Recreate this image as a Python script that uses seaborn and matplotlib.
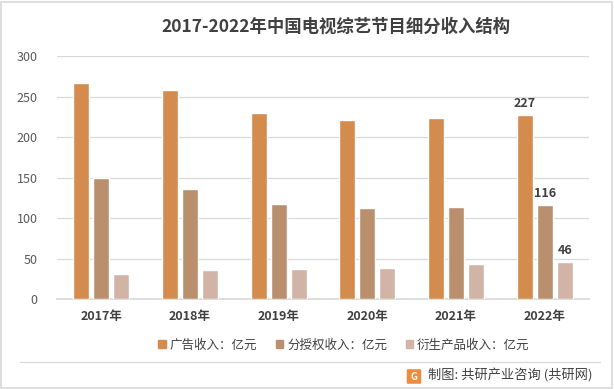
import pandas as pd
import seaborn as sns
import matplotlib.pyplot as plt
from matplotlib.patches import Rectangle, FancyBboxPatch

years = ["2017年", "2018年", "2019年", "2020年", "2021年", "2022年"]
series = ["广告收入：亿元", "分授权收入：亿元", "衍生产品收入：亿元"]
ad_income = [267, 258, 230, 221, 223, 227]
license_income = [150, 136, 117, 112, 114, 116]
derivative_income = [31, 36, 37, 38, 43, 46]
colors = ["#D38C4E", "#BA8F6E", "#D2B4A7"]

df = pd.DataFrame({
    "year": years * 3,
    "series": [series[0]] * 6 + [series[1]] * 6 + [series[2]] * 6,
    "value": ad_income + license_income + derivative_income,
})

sns.set_theme(style="white")
plt.rcParams["font.family"] = ["Noto Sans CJK SC", "DejaVu Sans"]

fig = plt.figure(figsize=(6.14, 3.89), dpi=100)
ax = fig.add_axes([57 / 614, 1 - 299 / 389, 532 / 614, 243 / 389])

sns.barplot(data=df, x="year", y="value", hue="series", palette=colors,
            width=0.68, gap=0.2, saturation=1, ax=ax, legend=False, zorder=3)

ax.set_ylim(0, 300)
ax.set_yticks(range(0, 301, 50))
ax.set_xlim(-0.5, 5.5)
ax.yaxis.grid(True, color="#d9d9d9", linewidth=0.9, zorder=0)
ax.set_axisbelow(True)
for s in ["top", "right", "left"]:
    ax.spines[s].set_visible(False)
ax.spines["bottom"].set_color("#d9d9d9")
ax.set_xlabel("")
ax.set_ylabel("")
ax.tick_params(axis="y", labelsize=9, colors="#595959", length=0, pad=14)
ax.tick_params(axis="x", labelsize=9, colors="#404040", length=0, pad=8)
for t in ax.get_xticklabels():
    t.set_fontweight("bold")

# data labels on last group
for cont in ax.containers:
    bar = cont.patches[-1]
    ax.text(bar.get_x() + bar.get_width() / 2, bar.get_height() + 6, f"{bar.get_height():.0f}",
            ha="center", va="bottom", fontsize=9, fontweight="bold", color="#404040")

handles = [Rectangle((0, 0), 1, 1, color=c) for c in colors]
fig.legend(handles, series, loc="center", bbox_to_anchor=(344 / 614, 1 - 345 / 389), ncol=3,
           frameon=False, fontsize=9, handlelength=0.6, handleheight=0.6,
           handletextpad=0.3, columnspacing=1.5, labelcolor="#404040")

fig.text(336 / 614, 1 - 27 / 389, "2017-2022年中国电视综艺节目细分收入结构", ha="center", va="center",
         fontsize=12.5, fontweight="bold", color="#404040")

# footer line and source
fig.add_artist(plt.Line2D([20 / 614, 600 / 614], [1 - 362 / 389] * 2, color="#d9d9d9", linewidth=0.9))
fig.add_artist(FancyBboxPatch((408 / 614, 1 - 383 / 389), 12 / 614, 13 / 389,
                              boxstyle="round,pad=0.002", facecolor="#F08A3C", edgecolor="none"))
fig.text(414 / 614, 1 - 376.5 / 389, "G", ha="center", va="center", fontsize=7,
         fontweight="bold", color="white")
fig.text(428 / 614, 1 - 376 / 389, "制图: 共研产业咨询 (共研网)", ha="left", va="center",
         fontsize=9.5, color="#404040")

fig.add_artist(Rectangle((1 / 614, 1 / 389), 611 / 614, 386 / 389, fill=False,
                         edgecolor="#d9d9d9", linewidth=1.2, transform=fig.transFigure))

fig.savefig("out.png", dpi=100)
